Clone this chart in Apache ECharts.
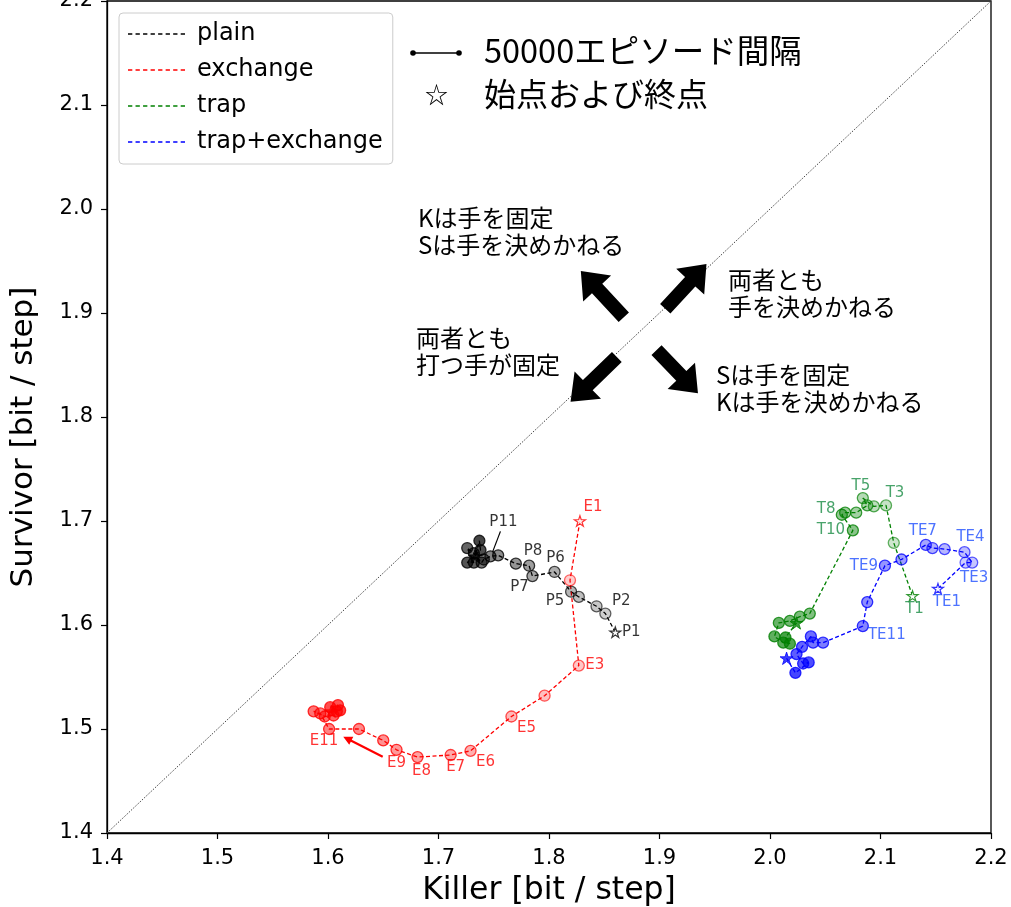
<!DOCTYPE html>
<html>
<head>
<meta charset="utf-8">
<script src="https://cdn.jsdelivr.net/npm/echarts@6/dist/echarts.min.js"></script>
<style>
  html, body { margin: 0; padding: 0; background: #fff; }
  #chart { width: 1011px; height: 907px; }
</style>
</head>
<body>
<div id="chart"></div>
<script>
// ---- data (Killer, Survivor) every 50000 episodes ----
var plain = [
  [1.860, 1.593], [1.851, 1.611], [1.843, 1.618], [1.827, 1.627], [1.820, 1.632],
  [1.805, 1.651], [1.785, 1.647], [1.782, 1.657], [1.770, 1.659], [1.754, 1.667],
  [1.747, 1.666], [1.741, 1.663], [1.739, 1.660], [1.732, 1.669], [1.726, 1.674],
  [1.732, 1.660], [1.726, 1.660], [1.738, 1.672], [1.737, 1.681], [1.733, 1.666]
];
var exchange = [
  [1.828, 1.700], [1.819, 1.643], [1.827, 1.561], [1.796, 1.532], [1.766, 1.512],
  [1.729, 1.479], [1.711, 1.475], [1.681, 1.473], [1.662, 1.480], [1.650, 1.489],
  [1.628, 1.500], [1.601, 1.500], [1.593, 1.515], [1.587, 1.517], [1.597, 1.512],
  [1.605, 1.513], [1.608, 1.517], [1.609, 1.523], [1.602, 1.521], [1.611, 1.518],
  [1.603, 1.517]
];
var trap = [
  [2.129, 1.628], [2.112, 1.679], [2.105, 1.715], [2.094, 1.714], [2.084, 1.722],
  [2.088, 1.715], [2.078, 1.708], [2.068, 1.708], [2.065, 1.706], [2.075, 1.691],
  [2.036, 1.611], [2.027, 1.608], [2.018, 1.604], [2.008, 1.602], [2.004, 1.589],
  [2.012, 1.583], [2.018, 1.582], [2.014, 1.588], [2.024, 1.602]
];
var trapEx = [
  [2.152, 1.635], [2.177, 1.660], [2.183, 1.660], [2.176, 1.670], [2.158, 1.673],
  [2.147, 1.674], [2.141, 1.677], [2.119, 1.663], [2.104, 1.657], [2.088, 1.622],
  [2.084, 1.599], [2.048, 1.583], [2.039, 1.583], [2.037, 1.589], [2.029, 1.579],
  [2.024, 1.572], [2.030, 1.563], [2.035, 1.564], [2.023, 1.554], [2.015, 1.568]
];

var plainLabels = ['P1', 'P2', '', '', 'P5', 'P6', 'P7', 'P8', '', '', 'P11'];
var exchangeLabels = ['E1', '', 'E3', '', 'E5', 'E6', 'E7', 'E8', 'E9', '', '', 'E11'];
var trapLabels = ['T1', '', 'T3', '', 'T5', '', '', 'T8', '', 'T10'];
var trapExLabels = ['TE1', '', 'TE3', 'TE4', '', '', 'TE7', '', 'TE9', '', 'TE11'];

var diagonal = [[1.4, 1.4], [2.2, 2.2]];

// quadrant arrows [x0, y0, x1, y1] (tail -> tip)
var bigArrows = [
  [1.8677, 1.8958, 1.8288, 1.9405],
  [1.9052, 1.9040, 1.9425, 1.9471],
  [1.8614, 1.8577, 1.8195, 1.8146],
  [1.8973, 1.8643, 1.9348, 1.8229]
];
var redArrow = [[1.6495, 1.4734, 1.6138, 1.4926]];

// ---- styling ----
var labelOffset = {
  P1: [16, 0], P2: [16, -12], P5: [-16, 9], P6: [1, -14], P7: [-13, 11], P8: [4, -15], P11: [13, -34],
  E1: [13, -14], E3: [16, 0], E5: [15, 12], E6: [15, 11], E7: [5, 12], E8: [4, 14], E9: [0, 13], E11: [-5, 12],
  T1: [2, 13], T3: [9, -12], T5: [-2, -12], T8: [-19, -4], T10: [-22, 0],
  TE1: [9, 14], TE3: [2, 16], TE4: [6, -15], TE7: [-3, -14], TE9: [-21, 0], TE11: [24, 9]
};
var STAR = 'path://M500,0L612,345L976,345L682,559L794,905L500,691L206,905L318,559L24,345L388,345Z';
var DASH = 'path://M0,0h4v1h-4zM7,0h4v1h-4zM14,0h4v1h-4zM21,0h4v1h-4zM28,0h4v1h-4zM35,0h4v1h-4zM42,0h4v1h-4zM49,0h4v1h-4z';
var JP = 'Noto Sans CJK JP';

function rgba(rgb, a) { return 'rgba(' + rgb.join(',') + ',' + a + ')'; }

function track(name, pts, labels, rgb, textColor) {
  var n = pts.length;
  var line = {
    name: name, type: 'line', data: pts, symbol: 'none', z: 2, silent: true,
    lineStyle: { color: rgba(rgb, 1), width: 1.3, type: [4, 2.5] }
  };
  var marks = pts.map(function (p, i) {
    var item = { value: p };
    var a = 0.2 + 0.75 * i / (n - 1);
    if (i === 0) {
      item.symbol = STAR; item.symbolSize = 11;
      item.itemStyle = { color: '#fff', borderColor: rgba(rgb, 1), borderWidth: 1.2 };
    } else if (i === n - 1) {
      item.symbol = STAR; item.symbolSize = 13;
      item.itemStyle = { color: rgba(rgb, 0.95), borderColor: rgba(rgb, 1), borderWidth: 1 };
    } else {
      item.itemStyle = { color: rgba(rgb, a), borderColor: rgba(rgb, Math.min(1, a + 0.5)), borderWidth: 1.3 };
    }
    var t = labels[i];
    if (t) {
      item.label = {
        show: true, formatter: t, position: 'inside', offset: labelOffset[t],
        color: textColor, fontSize: 15, fontFamily: 'DejaVu Sans'
      };
    }
    return item;
  });
  var sc = {
    name: name + ' pts', type: 'scatter', data: marks, symbol: 'circle', symbolSize: 11,
    symbolKeepAspect: true, z: 3, silent: true
  };
  return [line, sc];
}

function arrowShape(w, hw, hl, color) {
  return function (params, api) {
    var p0 = api.coord([api.value(0), api.value(1)]);
    var p1 = api.coord([api.value(2), api.value(3)]);
    var dx = p1[0] - p0[0], dy = p1[1] - p0[1];
    var L = Math.sqrt(dx * dx + dy * dy);
    var ux = dx / L, uy = dy / L, nx = -uy, ny = ux;
    var bx = p1[0] - ux * hl, by = p1[1] - uy * hl;
    return {
      type: 'polygon',
      shape: { points: [
        [p0[0] + nx * w, p0[1] + ny * w], [bx + nx * w, by + ny * w], [bx + nx * hw, by + ny * hw],
        [p1[0], p1[1]],
        [bx - nx * hw, by - ny * hw], [bx - nx * w, by - ny * w], [p0[0] - nx * w, p0[1] - ny * w]
      ] },
      style: { fill: color }
    };
  };
}

var series = [];
series.push({
  name: 'diag', type: 'line', data: diagonal, symbol: 'none', silent: true, z: 1,
  lineStyle: { color: '#444', width: 1, type: [1.5, 1.5] }
});
series = series.concat(track('plain', plain, plainLabels, [0, 0, 0], '#000'));
series = series.concat(track('exchange', exchange, exchangeLabels, [255, 0, 0], '#ff0000'));
series = series.concat(track('trap', trap, trapLabels, [0, 128, 0], '#1a8c45'));
series = series.concat(track('trap+exchange', trapEx, trapExLabels, [0, 0, 255], '#1f4fff'));
series.push({ name: 'arrows', type: 'custom', data: bigArrows, renderItem: arrowShape(7, 19, 24, '#000'), z: 5, silent: true });
series.push({ name: 'red arrow', type: 'custom', data: redArrow, renderItem: arrowShape(1.1, 4.5, 9, '#ff0000'), z: 5, silent: true });
// leader line from P11 to its label
series.push({
  name: 'p11 leader', type: 'custom', data: [plain[10]], z: 4, silent: true,
  renderItem: function (params, api) {
    var p = api.coord([api.value(0), api.value(1)]);
    return { type: 'line', shape: { x1: p[0] + 2, y1: p[1] - 4, x2: p[0] + 10, y2: p[1] - 25 }, style: { stroke: '#000', lineWidth: 1.2 } };
  }
});

function noteText(x, y, text) {
  return {
    type: 'text', left: x, top: y, z: 10,
    style: { text: text, font: '24px "' + JP + '"', fill: '#000', lineHeight: 27 }
  };
}

var chart = echarts.init(document.getElementById('chart'), null, { renderer: 'canvas' });
chart.setOption({
  animation: false,
  backgroundColor: '#fff',
  grid: {
    left: 107, right: 20, top: 1, bottom: 74, outerBoundsMode: 'none', containLabel: false,
    show: true, borderColor: '#000', borderWidth: 1.3, backgroundColor: 'transparent'
  },
  xAxis: {
    type: 'value', min: 1.4, max: 2.2, interval: 0.1,
    name: 'Killer [bit / step]', nameLocation: 'middle', nameGap: 42,
    nameTextStyle: { fontSize: 31.5, fontFamily: 'DejaVu Sans', color: '#000' },
    axisLine: { lineStyle: { color: '#000', width: 1.3 } },
    axisTick: { length: 6, lineStyle: { color: '#000', width: 1.2 } },
    axisLabel: { fontSize: 21, fontFamily: 'DejaVu Sans', color: '#000', margin: 15, formatter: function (v) { return v.toFixed(1); } },
    splitLine: { show: false }
  },
  yAxis: {
    type: 'value', min: 1.4, max: 2.2, interval: 0.1,
    name: 'Survivor [bit / step]', nameLocation: 'middle', nameGap: 68, nameRotate: 90,
    nameTextStyle: { fontSize: 31, fontFamily: 'DejaVu Sans', color: '#000', padding: [0, 40, 0, 0] },
    axisLine: { lineStyle: { color: '#000', width: 1.3 } },
    axisTick: { length: 6, lineStyle: { color: '#000', width: 1.2 } },
    axisLabel: { fontSize: 21, fontFamily: 'DejaVu Sans', color: '#000', margin: 14, formatter: function (v) { return v.toFixed(1); } },
    splitLine: { show: false }
  },
  legend: {
    data: [
      { name: 'plain', icon: DASH, itemStyle: { color: '#000' } },
      { name: 'exchange', icon: DASH, itemStyle: { color: '#ff0000' } },
      { name: 'trap', icon: DASH, itemStyle: { color: '#008000' } },
      { name: 'trap+exchange', icon: DASH, itemStyle: { color: '#0000ff' } }
    ],
    orient: 'vertical', left: 119, top: 13,
    padding: [9, 10, 10, 9], itemGap: 12, itemWidth: 57, itemHeight: 1.5,
    symbolKeepAspect: false,
    backgroundColor: 'rgba(255,255,255,0.85)', borderColor: '#ccc', borderWidth: 1, borderRadius: 4,
    textStyle: { fontSize: 24, fontFamily: 'DejaVu Sans', color: '#000', padding: [0, 0, 0, 7] },
    selectedMode: false
  },
  graphic: [
    { type: 'line', z: 10, shape: { x1: 413, y1: 53, x2: 459, y2: 53 }, style: { stroke: '#000', lineWidth: 1.5 } },
    { type: 'circle', z: 10, shape: { cx: 413, cy: 53, r: 2.8 }, style: { fill: '#000' } },
    { type: 'circle', z: 10, shape: { cx: 459, cy: 53, r: 2.8 }, style: { fill: '#000' } },
    { type: 'text', z: 10, left: 484, top: 34, style: { text: '50000エピソード間隔', font: '32.5px "' + JP + '"', fill: '#000' } },
    { type: 'text', z: 10, left: 425, top: 83, style: { text: '☆', font: '23px "' + JP + '"', fill: '#000' } },
    { type: 'text', z: 10, left: 484, top: 78, style: { text: '始点および終点', font: '32px "' + JP + '"', fill: '#000' } },
    noteText(418, 204, 'Kは手を固定\nSは手を決めかねる'),
    noteText(728, 266, '両者とも\n手を決めかねる'),
    noteText(416, 324, '両者とも\n打つ手が固定'),
    noteText(716, 361, 'Sは手を固定\nKは手を決めかねる')
  ],
  series: series
});
</script>
</body>
</html>
